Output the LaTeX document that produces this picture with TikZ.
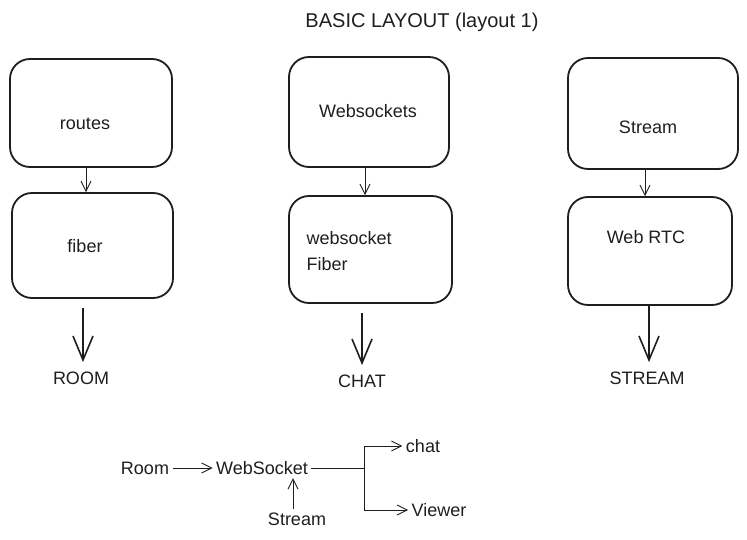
\documentclass[tikz,border=0pt]{standalone}
\usepackage{fontspec}
\setmainfont{Liberation Sans}
\usetikzlibrary{arrows.meta}
\usepackage{xcolor}
\definecolor{sketchink}{RGB}{30, 30, 30}

\begin{document}
\begin{tikzpicture}[x=1pt, y=-1pt,
    box/.style={rectangle, rounded corners=20pt, draw=sketchink, line width=1.8pt, inner sep=0pt},
    lbl/.style={text=sketchink, font=\fontsize{18}{26}\selectfont},
    thinarrow/.style={draw=sketchink, line width=0.9pt, -{Straight Barb[length=10pt, width=10pt]}},
    bigarrow/.style={draw=sketchink, line width=1.6pt, shorten <=9pt, shorten >=6pt, -{Straight Barb[length=24pt, width=20pt]}},
    plainline/.style={draw=sketchink, line width=0.9pt}]
    \useasboundingbox (0,0) rectangle (747,540);

    % Title
    \node[lbl, font=\fontsize{20}{24}\selectfont] (title) at (422,22) {BASIC LAYOUT (layout 1)};

    % Column 1 - routes
    \node[box, minimum width=162pt, minimum height=108pt] (routes) at (91,113) {};
    \node[lbl] (routestxt) at (85,124) {routes};
    \node[box, minimum width=161pt, minimum height=105pt] (fiber) at (92.5,245.5) {};
    \node[lbl] (fibertxt) at (85,246) {fiber};
    \node[lbl] (roomlbl) at (81,378) {ROOM};
    \draw[thinarrow] ([xshift=-5pt]routes.south) -- ([xshift=-5pt]routes.south |- fiber.north);
    \draw[bigarrow] ([xshift=2pt]roomlbl.north |- fiber.south) -- ([xshift=2pt]roomlbl.north);

    % Column 2 - websockets
    \node[box, minimum width=160pt, minimum height=110pt] (websockets) at (369,112) {};
    \node[lbl] (websocketstxt) at (368,111) {Websockets};
    \node[box, minimum width=163pt, minimum height=107pt] (wsfiber) at (370.5,249.5) {};
    \node[lbl, anchor=west, align=left] (wsfibertxt) at (303,251) {websocket\\ Fiber};
    \node[lbl] (chatlbl) at (362,381) {CHAT};
    \draw[thinarrow] ([xshift=-4pt]websockets.south) -- ([xshift=-4pt]websockets.south |- wsfiber.north);
    \draw[bigarrow] (chatlbl.north |- wsfiber.south) -- (chatlbl.north);

    % Column 3 - stream
    \node[box, minimum width=170pt, minimum height=111pt] (stream) at (653,113.5) {};
    \node[lbl] (streamtxt) at (648,127) {Stream};
    \node[box, minimum width=164pt, minimum height=108pt] (webrtc) at (650,251) {};
    \node[lbl] (webrtctxt) at (646,237) {Web RTC};
    \node[lbl] (streamlbl) at (647,378) {STREAM};
    \draw[thinarrow] ([xshift=-8pt]stream.south) -- ([xshift=-8pt]stream.south |- webrtc.north);
    \draw[bigarrow, shorten <=0pt] ([xshift=2pt]streamlbl.north |- webrtc.south) -- ([xshift=2pt]streamlbl.north);

    % Flow at the bottom
    \node[lbl] (room) at (145,468) {Room};
    \node[lbl] (wsock) at (262,468) {WebSocket};
    \node[lbl] (strm) at (297,519) {Stream};
    \node[lbl] (chat) at (423,446) {chat};
    \node[lbl] (viewer) at (439,510) {Viewer};
    \coordinate (split) at (364,468);
    \draw[thinarrow] (room) -- (wsock);
    \draw[thinarrow] ([xshift=-4pt]strm.north) -- ([xshift=-4pt]strm.north |- wsock.south);
    \draw[plainline] (wsock.east) -- (split);
    \draw[thinarrow] (split) |- (chat.west);
    \draw[thinarrow] (split) |- (viewer.west);
\end{tikzpicture}
\end{document}
